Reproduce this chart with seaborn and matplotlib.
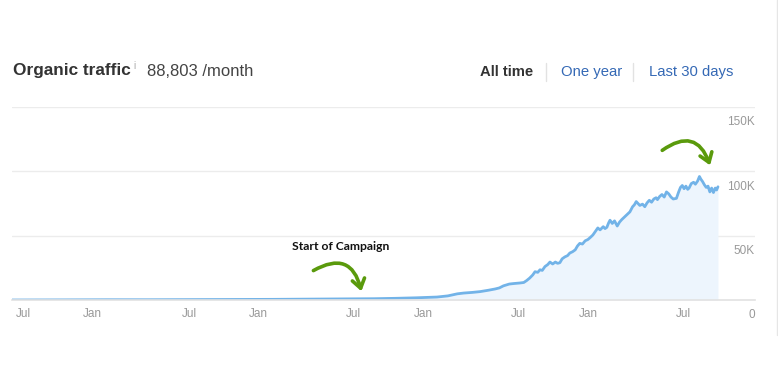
import pandas as pd
import matplotlib.pyplot as plt
import matplotlib.dates as mdates
import matplotlib.transforms as mtransforms
from matplotlib.lines import Line2D
from matplotlib.patches import FancyArrowPatch
import seaborn as sns

# Datos (fecha, visitas organicas)
fechas = [
    "2015-06-05", "2015-10-01", "2016-01-01", "2016-04-01", "2016-07-01", "2016-10-01",
    "2017-01-01", "2017-04-01", "2017-07-01", "2017-08-15", "2017-10-01", "2017-11-15",
    "2018-01-01", "2018-01-25", "2018-02-15", "2018-03-01", "2018-03-20", "2018-04-06",
    "2018-04-25", "2018-05-10", "2018-05-19", "2018-05-28", "2018-06-10", "2018-06-20",
    "2018-07-03", "2018-07-12", "2018-07-18", "2018-07-25", "2018-08-01", "2018-08-06",
    "2018-08-12", "2018-08-17", "2018-08-22", "2018-08-28", "2018-09-03", "2018-09-08",
    "2018-09-14", "2018-09-20", "2018-09-25", "2018-09-30", "2018-10-05", "2018-10-11",
    "2018-10-17", "2018-10-22", "2018-10-28", "2018-11-03", "2018-11-08", "2018-11-13",
    "2018-11-19", "2018-11-25", "2018-12-01", "2018-12-06", "2018-12-12", "2018-12-17",
    "2018-12-23", "2018-12-28", "2019-01-04", "2019-01-08", "2019-01-12", "2019-01-16",
    "2019-01-19", "2019-01-24", "2019-01-29", "2019-02-04", "2019-02-09", "2019-02-14",
    "2019-02-20", "2019-02-26", "2019-03-04", "2019-03-10", "2019-03-14", "2019-03-18",
    "2019-03-22", "2019-03-26", "2019-04-01", "2019-04-06", "2019-04-11", "2019-04-16",
    "2019-04-21", "2019-04-26", "2019-05-01", "2019-05-04", "2019-05-09", "2019-05-14",
    "2019-05-19", "2019-05-24", "2019-05-29", "2019-06-03", "2019-06-08", "2019-06-15",
    "2019-06-20", "2019-06-24", "2019-06-28", "2019-07-02", "2019-07-06", "2019-07-10",
    "2019-07-13", "2019-07-18", "2019-07-23", "2019-07-27", "2019-08-01", "2019-08-05",
    "2019-08-08", "2019-08-12", "2019-08-16", "2019-08-20", "2019-08-24", "2019-08-28",
    "2019-09-01", "2019-09-05", "2019-09-09", "2019-09-12", "2019-09-15",
]
trafico = [
    0, 100, 200, 200, 300, 400,
    500, 700, 900, 1000, 1300, 1700,
    2300, 3200, 4800, 5400, 5900, 6500,
    7600, 8600, 9400, 11000, 12400, 12800,
    13200, 13600, 15000, 17000, 19500, 22000,
    21500, 23500, 23000, 26000, 27500, 29500,
    28000, 29500, 28500, 29000, 32000, 33500,
    34500, 36500, 37500, 39000, 42000, 44000,
    43500, 46000, 47000, 48500, 50500, 53000,
    56000, 54500, 57000, 55500, 56500, 60000,
    62000, 59500, 61500, 57500, 60500, 62500,
    64500, 66500, 68500, 72500, 74000, 76500,
    75000, 73500, 74500, 72500, 75500, 77500,
    76000, 78500, 79500, 78000, 80500, 82000,
    80000, 84000, 82500, 80000, 78500, 79000,
    84000, 87500, 89000, 86500, 88500, 86000,
    87000, 90500, 91500, 90000, 92500, 96000,
    94000, 92000, 89500, 87500, 88500, 84000,
    87000, 83500, 87000, 85500, 88000,
]

# Ejes
marcas = ["2015-07-01", "2016-01-01", "2016-07-01", "2017-01-01", "2017-07-01",
          "2018-01-01", "2018-07-01", "2019-01-01", "2019-07-01"]
pos_etiquetas = ["2015-07-01", "2015-12-01", "2016-07-01", "2016-12-01", "2017-07-01",
                 "2017-12-01", "2018-07-01", "2018-12-01", "2019-07-01"]
etiquetas_x = ["Jul", "Jan", "Jul", "Jan", "Jul", "Jan", "Jul", "Jan", "Jul"]
valores_y = [0, 50000, 100000, 150000]
etiquetas_y = ["0", "50K", "100K", "150K"]

df = pd.DataFrame({"fecha": pd.to_datetime(fechas), "trafico": trafico})

sns.set_style("white")
plt.rcParams["font.family"] = ["Liberation Sans", "DejaVu Sans"]

fig = plt.figure(figsize=(7.78, 3.73), dpi=100)
ax = fig.add_axes([12 / 778, 73 / 373, 743 / 778, 193 / 373])

azul = "#72b3e8"
ax.fill_between(df["fecha"], df["trafico"], color="#edf5fd", lw=0)
sns.lineplot(data=df, x="fecha", y="trafico", ax=ax, color=azul, lw=2)

ax.set_xlim(pd.Timestamp("2015-06-05"), pd.Timestamp("2019-12-06"))
ax.set_ylim(0, 150000)
ax.set_xlabel("")
ax.set_ylabel("")

# cuadricula
ax.set_yticks(valores_y)
ax.set_yticklabels([])
ax.tick_params(axis="y", length=0)
ax.yaxis.grid(True, color="#ececec", lw=1)
for s in ["top", "left", "right"]:
    ax.spines[s].set_visible(False)
ax.spines["bottom"].set_color("#e2e2e2")
ax.spines["bottom"].set_linewidth(1.2)

# ticks del eje x
ax.set_xticks(pd.to_datetime(marcas))
ax.set_xticklabels([""] * len(marcas))
ax.tick_params(axis="x", which="major", direction="in", length=6, color="#d8d8d8", width=1)
tx = mtransforms.blended_transform_factory(ax.transData, ax.transAxes)
for d, t in zip(mdates.date2num(pd.to_datetime(pos_etiquetas)), etiquetas_x):
    ax.annotate(t, xy=(d, 0), xycoords=tx, xytext=(0, -10), textcoords="offset points",
                ha="center", va="center", fontsize=8.5, color="#999999")

# etiquetas y a la derecha, debajo de la linea
ty = mtransforms.blended_transform_factory(ax.transAxes, ax.transData)
for v, t in zip(valores_y, etiquetas_y):
    ax.annotate(t, xy=(1, v), xycoords=ty, xytext=(0, -11), textcoords="offset points",
                ha="right", va="center", fontsize=8.5, color="#999999")

# encabezado
fig.text(13 / 778, 1 - 71 / 373, "Organic traffic", fontsize=12.4, fontweight="bold",
         color="#333333", va="center")
fig.text(133 / 778, 1 - 66 / 373, "i", fontsize=7, color="#aaaaaa", va="center")
fig.text(147 / 778, 1 - 71 / 373, "88,803 /month", fontsize=12, color="#444444", va="center")
fig.text(480 / 778, 1 - 72 / 373, "All time", fontsize=10.7, fontweight="bold",
         color="#333333", va="center")
fig.text(561 / 778, 1 - 72 / 373, "One year", fontsize=10.7, color="#3569b5", va="center")
fig.text(649 / 778, 1 - 72 / 373, "Last 30 days", fontsize=10.7, color="#3569b5", va="center")
for xs in [546, 633]:
    fig.add_artist(Line2D([xs / 778] * 2, [1 - 81 / 373, 1 - 63 / 373], color="#e2e2e2", lw=1))
fig.add_artist(Line2D([777 / 778] * 2, [1 - 335 / 373, 1], color="#e6e6e6", lw=1))

# anotacion
fig.text(292 / 778, 1 - 246 / 373, "Start of Campaign", fontsize=8.7, fontweight="bold",
         family="Lato", color="#111111", va="center")
verde = "#5a9a0c"
for p0, p1 in [((311, 272), (362, 294)), ((660, 152), (711, 168))]:
    flecha = FancyArrowPatch((p0[0] / 778, 1 - p0[1] / 373), (p1[0] / 778, 1 - p1[1] / 373),
                             transform=fig.transFigure, connectionstyle="arc3,rad=-0.7",
                             arrowstyle="->,head_length=6.5,head_width=4.5", color=verde,
                             lw=2.6, capstyle="round", joinstyle="round")
    fig.add_artist(flecha)

fig.savefig("out.png", dpi=100)
